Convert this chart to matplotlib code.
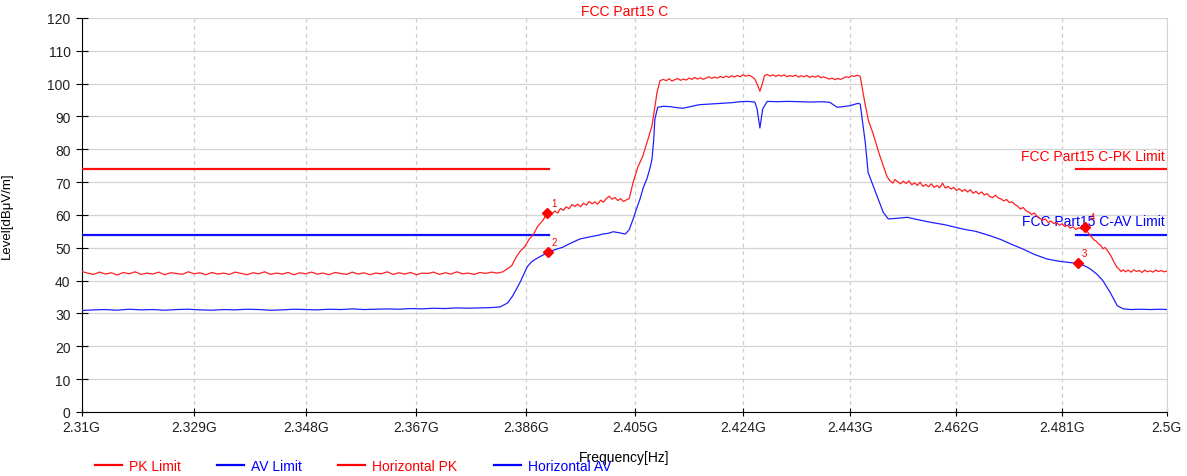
import numpy as np
import matplotlib.pyplot as plt
from matplotlib.lines import Line2D

plt.rcParams['font.family'] = ['Liberation Sans', 'DejaVu Sans']

# x axis ticks (GHz)
x_ticks = [2.31, 2.329, 2.348, 2.367, 2.386, 2.405, 2.424, 2.443, 2.462, 2.481, 2.5]
x_tick_labels = ['2.31G', '2.329G', '2.348G', '2.367G', '2.386G', '2.405G',
                 '2.424G', '2.443G', '2.462G', '2.481G', '2.5G']

# limits (dBuV/m) over the restricted bands (MHz)
pk_limit = 74
av_limit = 54
restricted_bands = [(2310.0, 2390.0), (2483.5, 2500.0)]

# horizontal PK trace: (MHz, dBuV/m)
pk_trace = [
    (2310, 42.8), (2311, 42.3), (2312, 41.9), (2313, 42.6), (2314, 42.0),
    (2315, 42.4), (2316, 41.7), (2317, 42.5), (2318, 42.1), (2319, 42.7),
    (2320, 41.9), (2321, 42.3), (2322, 42.0), (2323, 42.6), (2324, 41.8),
    (2325, 42.4), (2326, 42.2), (2327, 41.9), (2328, 42.7), (2329, 42.1),
    (2330, 42.4), (2331, 41.8), (2332, 42.5), (2333, 42.0), (2334, 42.3),
    (2335, 41.9), (2336, 42.6), (2337, 42.2), (2338, 41.8), (2339, 42.4),
    (2340, 42.1), (2341, 42.7), (2342, 41.9), (2343, 42.3), (2344, 42.0),
    (2345, 42.5), (2346, 41.8), (2347, 42.4), (2348, 42.1), (2349, 42.6),
    (2350, 42.0), (2351, 42.3), (2352, 41.8), (2353, 42.5), (2354, 42.2),
    (2355, 41.9), (2356, 42.6), (2357, 42.0), (2358, 42.4), (2359, 41.8),
    (2360, 42.3), (2361, 42.1), (2362, 42.7), (2363, 41.9), (2364, 42.4),
    (2365, 42.0), (2366, 42.5), (2367, 41.8), (2368, 42.3), (2369, 42.2),
    (2370, 42.6), (2371, 41.9), (2372, 42.4), (2373, 42.0), (2374, 42.7),
    (2375, 42.1), (2376, 42.3), (2377, 41.9), (2378, 42.5), (2379, 42.2),
    (2380, 42.6), (2381, 42.3), (2382, 42.7),
    (2383.5, 44.5), (2384.3, 47.2), (2385.0, 49.0), (2385.8, 50.4), (2386.5, 52.5),
    (2387.3, 54.1), (2388.0, 56.5), (2389.0, 58.5), (2389.6, 60.6), (2390.0, 59.4),
    (2390.5, 60.3), (2391.0, 61.2), (2391.5, 60.6), (2392.0, 62.0), (2392.5, 61.4),
    (2393.0, 62.5), (2393.5, 61.9), (2394.0, 63.2), (2394.5, 62.6), (2395.0, 63.3),
    (2395.5, 62.5), (2396.0, 63.6), (2396.5, 63.0), (2397.0, 64.1), (2397.5, 63.4),
    (2398.0, 64.0), (2398.5, 63.3), (2399.0, 64.5), (2399.5, 63.9), (2400.0, 65.0),
    (2400.5, 65.7), (2401.0, 64.8), (2401.5, 65.3), (2402.0, 64.4), (2402.5, 65.0),
    (2403.0, 64.1), (2403.5, 64.6), (2404.0, 65.0), (2404.7, 70.0), (2405.5, 74.5),
    (2406.4, 78.0), (2407.2, 82.5), (2408.0, 87.2), (2408.5, 93.0), (2408.9, 97.5),
    (2409.4, 100.9),
    (2410.0, 101.3), (2410.5, 100.9), (2411.0, 101.5), (2411.5, 100.8), (2412.0, 101.2),
    (2412.5, 101.6), (2413.0, 101.0), (2413.5, 101.4), (2414.0, 101.1), (2414.5, 101.7),
    (2415.0, 101.3), (2415.5, 101.9), (2416.0, 101.4), (2416.5, 101.8), (2417.0, 101.3),
    (2417.5, 101.7), (2418.0, 102.1), (2418.5, 101.6), (2419.0, 102.0), (2419.5, 101.7),
    (2420.0, 102.2), (2420.5, 101.8), (2421.0, 102.3), (2421.5, 101.9), (2422.0, 102.4),
    (2422.5, 102.0), (2423.0, 102.5), (2423.5, 102.1), (2424.0, 102.7), (2424.5, 102.3),
    (2425.0, 102.6), (2425.5, 102.2), (2426.1, 101.4), (2426.6, 99.5), (2427.0, 97.7),
    (2427.4, 99.8), (2427.8, 102.4), (2428.3, 102.8), (2428.8, 102.3), (2429.3, 102.7),
    (2429.8, 102.2), (2430.3, 102.6), (2430.8, 102.3), (2431.3, 102.7), (2431.8, 102.1),
    (2432.3, 102.5), (2432.8, 102.2), (2433.3, 102.6), (2433.8, 102.0), (2434.3, 102.4),
    (2434.8, 102.1), (2435.3, 102.5), (2435.8, 101.9), (2436.3, 102.3), (2436.8, 102.0),
    (2437.3, 102.4), (2437.8, 101.8), (2438.3, 102.1), (2438.8, 101.7), (2439.3, 101.4),
    (2439.8, 101.7), (2440.3, 101.2), (2440.8, 101.6), (2441.3, 101.3), (2441.8, 101.7),
    (2442.3, 102.1), (2442.8, 101.9), (2443.3, 102.4), (2443.8, 102.2), (2444.3, 102.6),
    (2444.8, 102.2),
    (2445.6, 94.4), (2446.3, 88.5), (2447.0, 85.3), (2448.3, 78.0), (2449.6, 71.6),
    (2450.1, 70.5), (2450.6, 69.7), (2451.0, 70.8), (2451.5, 70.1), (2452.0, 69.5),
    (2452.5, 70.3), (2453.0, 69.6), (2453.5, 70.4), (2454.0, 69.2), (2454.5, 69.8),
    (2455.0, 69.0), (2455.5, 70.0), (2456.0, 68.7), (2456.5, 69.3), (2457.0, 68.6),
    (2457.5, 69.5), (2458.0, 68.4), (2458.5, 69.0), (2459.0, 68.3), (2459.5, 69.7),
    (2460.0, 68.2), (2460.5, 68.7), (2461.0, 67.9), (2461.5, 68.4), (2462.0, 67.5),
    (2462.5, 68.0), (2463.0, 67.2), (2463.5, 67.8), (2464.0, 67.0), (2464.5, 67.7),
    (2465.0, 66.6), (2465.5, 67.2), (2466.0, 66.4), (2466.5, 67.0), (2467.0, 66.1),
    (2467.5, 66.5), (2468.0, 65.6), (2468.5, 65.3), (2469.0, 66.0), (2469.5, 65.2),
    (2470.0, 64.9), (2470.5, 64.3), (2471.0, 64.7), (2471.5, 63.8), (2472.0, 64.0),
    (2472.5, 63.2), (2473.0, 62.7), (2473.5, 61.8), (2474.0, 62.3), (2474.5, 61.3),
    (2475.0, 60.9), (2475.5, 60.2), (2476.0, 60.6), (2476.5, 59.6), (2477.0, 59.0),
    (2477.5, 58.4), (2478.0, 58.8), (2478.5, 57.7), (2479.0, 58.2), (2479.5, 57.4),
    (2480.0, 57.8), (2480.5, 56.9), (2481.0, 57.3), (2481.5, 56.5), (2482.0, 56.9),
    (2482.5, 56.0), (2483.0, 56.4), (2483.5, 55.6), (2484.0, 56.1), (2484.5, 55.7),
    (2485.2, 56.3), (2485.6, 54.9), (2486.0, 54.0), (2486.4, 53.2), (2486.8, 52.4),
    (2487.2, 52.0), (2487.6, 51.2), (2488.0, 50.8), (2488.4, 49.7), (2488.8, 50.1),
    (2489.3, 49.0), (2489.7, 48.0), (2490.0, 47.1), (2490.4, 45.7), (2490.7, 44.8),
    (2491.0, 44.0), (2491.4, 43.4), (2491.7, 42.8), (2492.1, 43.3), (2492.5, 42.7),
    (2493.0, 43.2), (2493.5, 42.6), (2494.0, 43.3), (2494.5, 42.8), (2495.0, 43.1),
    (2495.5, 42.5), (2496.0, 43.2), (2496.5, 42.7), (2497.0, 43.0), (2497.5, 42.6),
    (2498.0, 43.2), (2498.5, 42.8), (2499.0, 43.1), (2499.5, 42.7), (2500.0, 42.9),
]

# horizontal AV trace: (MHz, dBuV/m)
av_trace = [
    (2310.0, 30.9), (2312.0, 31.1), (2314.0, 31.2), (2316.0, 31.0), (2318.0, 31.3),
    (2320.0, 31.1), (2322.0, 31.2), (2324.0, 31.0), (2326.0, 31.2), (2328.0, 31.3),
    (2330.0, 31.1), (2332.0, 31.0), (2334.0, 31.2), (2336.0, 31.1), (2338.0, 31.3),
    (2340.0, 31.2), (2342.0, 31.0), (2344.0, 31.1), (2346.0, 31.3), (2348.0, 31.2),
    (2350.0, 31.1), (2352.0, 31.3), (2354.0, 31.2), (2356.0, 31.4), (2358.0, 31.2),
    (2360.0, 31.3), (2362.0, 31.4), (2364.0, 31.3), (2366.0, 31.5), (2368.0, 31.4),
    (2370.0, 31.6), (2372.0, 31.5), (2374.0, 31.7), (2376.0, 31.6), (2378.0, 31.7),
    (2380.0, 31.8), (2381.5, 32.0),
    (2382.8, 33.2), (2383.7, 35.4), (2385.0, 39.6), (2386.2, 44.2), (2387.0, 45.8),
    (2387.9, 46.8), (2389.8, 48.6), (2391.0, 49.4), (2392.4, 50.2), (2394.0, 51.6),
    (2395.4, 52.7), (2397.0, 53.3), (2398.5, 53.8), (2399.4, 54.2), (2400.3, 54.4),
    (2401.2, 54.9), (2402.2, 54.6), (2403.3, 54.2), (2404.0, 55.5), (2404.7, 58.8),
    (2405.3, 62.0), (2405.9, 64.9), (2406.5, 68.5), (2407.1, 71.0), (2407.6, 74.0),
    (2408.0, 77.0), (2408.3, 83.0), (2408.5, 89.2), (2409.0, 92.8),
    (2410.0, 93.1), (2411.2, 93.0), (2412.3, 92.7), (2413.4, 92.5), (2414.5, 92.9),
    (2415.5, 93.3), (2416.4, 93.6), (2418.2, 93.8), (2420.0, 94.0), (2422.0, 94.2),
    (2423.5, 94.5), (2424.7, 94.6), (2426.1, 94.4), (2426.5, 92.3), (2427.0, 86.5),
    (2427.5, 92.3), (2428.3, 94.6), (2430.0, 94.5), (2432.0, 94.6), (2434.1, 94.5),
    (2436.0, 94.4), (2438.0, 94.5), (2439.4, 94.3), (2440.7, 92.8), (2441.8, 93.0),
    (2443.0, 93.3), (2444.4, 94.0), (2444.8, 93.8),
    (2445.7, 82.1), (2446.2, 73.0), (2447.1, 68.9), (2448.0, 64.9), (2448.9, 60.8),
    (2449.8, 58.8), (2451.5, 59.0), (2453.2, 59.3), (2455.0, 58.6), (2457.3, 57.8),
    (2460.0, 57.0), (2463.2, 55.7), (2465.5, 55.0), (2468.0, 53.7), (2470.0, 52.5),
    (2472.0, 51.0), (2474.0, 49.6), (2476.0, 48.0), (2478.3, 46.6), (2480.5, 45.9),
    (2483.0, 45.4), (2483.9, 45.3), (2485.0, 44.6), (2486.1, 43.6), (2487.3, 42.0),
    (2488.4, 40.0), (2489.7, 36.5), (2491.0, 32.4), (2492.1, 31.4), (2493.5, 31.2),
    (2495.0, 31.3), (2497.0, 31.2), (2499.0, 31.3), (2500.0, 31.2),
]

# marker table
marker_no = [1, 2, 3, 4]
marker_freq = [2389.6, 2389.8, 2483.9, 2485.2]
marker_level = [60.6, 48.6, 45.3, 56.3]

pk_f, pk_v = np.array(pk_trace).T
av_f, av_v = np.array(av_trace).T

fig = plt.figure(figsize=(11.87, 4.77), dpi=100)
ax = fig.add_axes([0.0688, 0.1342, 0.9141, 0.826])

# limit lines
for f0, f1 in restricted_bands:
    ax.plot([f0 * 1e6, f1 * 1e6], [pk_limit, pk_limit], color='#ff1010', lw=1.6, zorder=3)
    ax.plot([f0 * 1e6, f1 * 1e6], [av_limit, av_limit], color='#1010ff', lw=1.6, zorder=3)

ax.plot(pk_f * 1e6, pk_v, color='#ff2020', lw=0.9, zorder=4)
ax.plot(av_f * 1e6, av_v, color='#2020ff', lw=0.9, zorder=4)

ax.plot(np.array(marker_freq) * 1e6, marker_level, 'D', color='red', ms=5, zorder=5)
for n, f, v in zip(marker_no, marker_freq, marker_level):
    ax.annotate(str(n), (f * 1e6, v), xytext=(3, 5), textcoords='offset points',
                color='red', fontsize=7, zorder=5)

ax.text(0.998, 78, 'FCC Part15 C-PK Limit', transform=ax.get_yaxis_transform(),
        ha='right', va='center', color='red', fontsize=10, zorder=2)
ax.text(0.998, 58.2, 'FCC Part15 C-AV Limit', transform=ax.get_yaxis_transform(),
        ha='right', va='center', color='blue', fontsize=10, zorder=2)

ax.set_xscale('log')
ax.set_xlim(2.31e9, 2.5e9)
ax.set_ylim(0, 120)
ax.set_xticks([t * 1e9 for t in x_ticks])
ax.set_xticklabels(x_tick_labels)
ax.minorticks_off()
ax.set_yticks(range(0, 121, 10))

ax.grid(axis='y', color='#d4d4d4', lw=0.9, ls='-')
ax.grid(axis='x', color='#cccccc', lw=0.9, ls=(0, (3, 3)))
ax.set_axisbelow(True)

ax.spines['top'].set_visible(False)
ax.spines['right'].set_color('#d4d4d4')
ax.tick_params(axis='y', direction='inout', length=9, labelsize=10, colors='black',
               labelcolor='#222222')
ax.tick_params(axis='x', direction='inout', length=6, labelsize=10, colors='black',
               labelcolor='#222222', pad=3)

ax.set_title('FCC Part15 C', color='red', fontsize=10, pad=2)
ax.set_xlabel('Frequency[Hz]', fontsize=10, labelpad=11)
ax.set_ylabel('Level[dBμV/m]', fontsize=9.5)
ax.yaxis.set_label_coords(-0.063, 0.5)

handles = [Line2D([], [], color='red', lw=1.6), Line2D([], [], color='blue', lw=1.6),
           Line2D([], [], color='red', lw=1.6), Line2D([], [], color='blue', lw=1.6)]
labels = ['PK Limit', 'AV Limit', 'Horizontal PK', 'Horizontal AV']
fig.legend(handles, labels, loc='center left', bbox_to_anchor=(0.0745, 0.021), ncol=4,
           frameon=False, fontsize=10, labelcolor='linecolor', borderpad=0,
           handlelength=1.95, handletextpad=0.5, columnspacing=2.6)

fig.savefig('out.png', dpi=100)
